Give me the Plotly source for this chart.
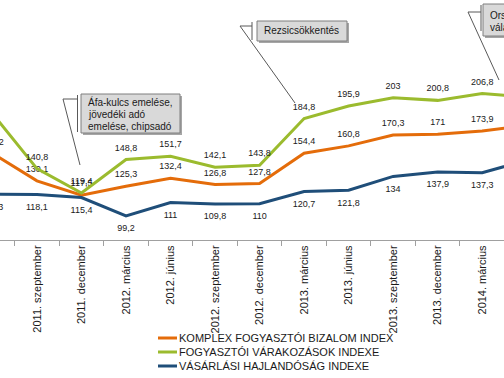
import plotly.graph_objects as go

# ---------------- data ----------------
categories = ["2011. június", "2011. szeptember", "2011. december", "2012. március",
              "2012. június", "2012. szeptember", "2012. december", "2013. március",
              "2013. június", "2013. szeptember", "2013. december", "2014. március",
              "2014. június"]
komplex = [154.2, 130.1, 117.5, 125.3, 132.4, 126.8, 127.8, 154.4, 160.8, 170.3, 171, 173.9, 178.7]
varakozas = [189.2, 140.8, 119.4, 148.8, 151.7, 142.1, 143.8, 184.8, 195.9, 203, 200.8, 206.8, 203.8]
hajlandosag = [118.3, 118.1, 115.4, 99.2, 111, 109.8, 110, 120.7, 121.8, 134, 137.9, 137.3, 148]

series_names = ["KOMPLEX FOGYASZTÓI BIZALOM INDEX",
                "FOGYASZTÓI VÁRAKOZÁSOK INDEXE",
                "VÁSÁRLÁSI HAJLANDÓSÁG INDEXE"]
series_colors = ["#E46C0A", "#9BBB2E", "#1F4E79"]

callout_texts = [["Áfa-kulcs emelése,", "jövedéki adó", "emelése, chipsadó"],
                 ["Rezsicsökkentés"],
                 ["Országgyűlési", "választások"]]

FONT = "Liberation Sans, Arial, sans-serif"
W, H = 504, 378
PLOT_BOTTOM = 240


def fmt(v):
    s = ("%g" % v)
    return s.replace(".", ",")


def px(x):
    return x / W


def py(y):
    return (PLOT_BOTTOM - y) / PLOT_BOTTOM


fig = go.Figure()

series = [komplex, varakozas, hajlandosag]
positions = ["top center", "top center", "bottom center"]
msizes = [9, 9, 12]
for i, vals in enumerate(series):
    texts = [fmt(v) for v in vals]
    if i == 1:
        texts[0] = ""  # label of the first point lies outside the visible area
    fig.add_trace(go.Scatter(
        x=categories, y=vals, name=series_names[i],
        mode="lines+markers+text",
        line=dict(color=series_colors[i], width=3),
        marker=dict(size=msizes[i], color="rgba(0,0,0,0)"),
        text=texts, textposition=positions[i],
        textfont=dict(family=FONT, size=9, color="#1a1a1a"),
        cliponaxis=True, showlegend=False, hoverinfo="skip",
    ))

shapes = []
annotations = []


def line(x0, y0, x1, y1, color="#595959", width=1):
    shapes.append(dict(type="line", xref="paper", yref="paper",
                       x0=px(x0), y0=py(y0), x1=px(x1), y1=py(y1),
                       line=dict(color=color, width=width)))


def box(x0, y0, x1, y1):
    shapes.append(dict(type="rect", xref="paper", yref="paper",
                       x0=px(x0 + 2), y0=py(y0 + 2), x1=px(x1 + 2), y1=py(y1 + 2),
                       fillcolor="#a6a6a6", line=dict(width=0)))
    shapes.append(dict(type="rect", xref="paper", yref="paper",
                       x0=px(x0), y0=py(y0), x1=px(x1), y1=py(y1),
                       fillcolor="#d9d9d9", line=dict(color="#7f7f7f", width=1)))


def text_lines(x, y0, lines, step=12):
    for k, t in enumerate(lines):
        annotations.append(dict(xref="paper", yref="paper", x=px(x), y=py(y0 + k * step),
                                text=t, showarrow=False, xanchor="left", yanchor="middle",
                                font=dict(family=FONT, size=10, color="#1a1a1a")))


# callout 1
box(81, 94, 180, 133)
line(80, 165, 63, 99)
line(63, 99, 77, 99)
line(77.5, 95, 77.5, 132)
text_lines(86, 102, callout_texts[0])

# callout 2
box(257, 21, 347, 41)
line(295, 103, 240, 26)
line(240, 26, 252, 26)
line(252, 22, 252, 40)
text_lines(262, 31, callout_texts[1])

# callout 3
box(483, 4, 560, 36)
line(499, 80, 468, 12)
line(468, 12, 481, 12)
line(481, 5, 481, 31)
text_lines(488, 15, callout_texts[2])

# legend (manual)
for i, nm in enumerate(series_names):
    yy = 338 + i * 14
    line(158, yy, 177, yy, color=series_colors[i], width=3)
    annotations.append(dict(xref="paper", yref="paper", x=px(177), y=py(yy),
                            text=nm, showarrow=False, xanchor="left", yanchor="middle",
                            font=dict(family=FONT, size=11, color="#1a1a1a")))

fig.update_layout(
    width=W, height=H,
    margin=dict(l=0, r=0, t=0, b=H - PLOT_BOTTOM, pad=0),
    paper_bgcolor="white", plot_bgcolor="white",
    template="none",
    showlegend=False,
    shapes=shapes, annotations=annotations,
    font=dict(family=FONT, color="#1a1a1a"),
)
fig.update_xaxes(
    type="category", categoryorder="array", categoryarray=categories,
    range=[0.17, 11.49], tickson="boundaries",
    showline=True, linecolor="#a0a0a0", linewidth=1,
    ticks="outside", ticklen=5, tickcolor="#a0a0a0",
    tickangle=-90, tickfont=dict(family=FONT, size=11, color="#1a1a1a"),
    ticklabeloverflow="allow",
    showgrid=False, zeroline=False, automargin=False, fixedrange=True,
)
fig.update_yaxes(
    range=[78.1, 289], visible=False, showgrid=False, zeroline=False,
    automargin=False, fixedrange=True,
)

fig.write_html("out.html")
